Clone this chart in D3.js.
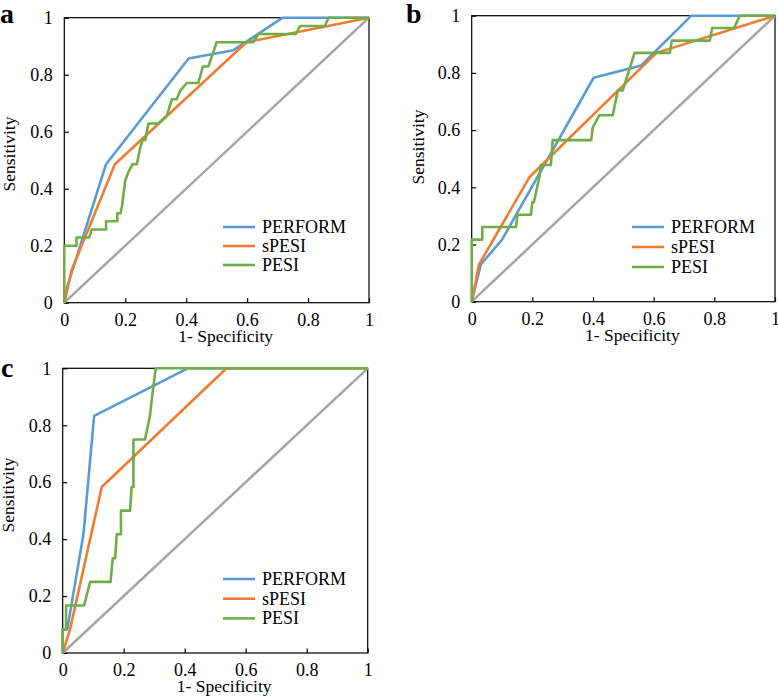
<!DOCTYPE html>
<html>
<head>
<meta charset="utf-8">
<script src="https://cdn.jsdelivr.net/npm/d3@7"></script>
<style>
  body { margin: 0; padding: 0; background: #fff; overflow: hidden; }
  text { font-family: "Times New Roman", "Liberation Serif", serif; fill: #000; }
</style>
</head>
<body>
<script>
// ROC curves, three panels (a, b, c)
const tickValues = [0, 0.2, 0.4, 0.6, 0.8, 1];
const tickLabels = ["0", "0.2", "0.4", "0.6", "0.8", "1"];
const seriesNames = ["PERFORM", "sPESI", "PESI"];
const seriesColors = ["#5b9bd5", "#ed7d31", "#70ad47"];
const xTitle = "1- Specificity";
const yTitle = "Sensitivity";

// [1-specificity, sensitivity]
const aPerform = [[0,0],[0.01,0.057],[0.137,0.486],[0.408,0.857],[0.555,0.886],[0.717,1],[1,1]];
const aSpesi = [[0,0],[0.024,0.114],[0.166,0.486],[0.598,0.914],[1,1]];
const aPesi = [[0,0],[0,0.2],[0.04,0.2],[0.04,0.229],[0.082,0.229],[0.09,0.257],[0.137,0.257],
  [0.137,0.286],[0.174,0.286],[0.174,0.314],[0.185,0.314],[0.19,0.343],[0.2,0.429],[0.21,0.457],
  [0.224,0.486],[0.238,0.486],[0.249,0.543],[0.257,0.571],[0.266,0.571],[0.276,0.629],[0.309,0.629],
  [0.337,0.657],[0.353,0.714],[0.369,0.714],[0.38,0.743],[0.402,0.771],[0.44,0.771],[0.455,0.829],
  [0.473,0.829],[0.5,0.914],[0.62,0.914],[0.637,0.943],[0.76,0.943],[0.774,0.971],[0.855,0.971],
  [0.867,1],[1,1]];

const bPerform = [[0,0],[0.03,0.13],[0.1,0.217],[0.402,0.783],[0.559,0.826],[0.724,1],[1,1]];
const bSpesi = [[0,0],[0.024,0.13],[0.19,0.435],[0.609,0.87],[1,1]];
const bPesi = [[0,0],[0,0.217],[0.035,0.217],[0.035,0.261],[0.146,0.261],[0.151,0.304],[0.195,0.304],
  [0.2,0.348],[0.205,0.348],[0.223,0.435],[0.228,0.478],[0.261,0.478],[0.267,0.565],[0.394,0.565],
  [0.399,0.609],[0.421,0.652],[0.465,0.652],[0.482,0.739],[0.498,0.739],[0.537,0.87],[0.653,0.87],
  [0.66,0.913],[0.785,0.913],[0.793,0.957],[0.865,0.957],[0.884,1],[1,1]];

const cPerform = [[0,0],[0,0.083],[0.015,0.083],[0.068,0.417],[0.103,0.833],[0.41,1],[1,1]];
const cSpesi = [[0,0],[0.024,0.083],[0.128,0.583],[0.537,1],[1,1]];
const cPesi = [[0,0],[0,0.083],[0.011,0.083],[0.011,0.167],[0.07,0.167],[0.09,0.25],[0.157,0.25],
  [0.164,0.333],[0.172,0.333],[0.177,0.417],[0.191,0.417],[0.191,0.5],[0.221,0.5],[0.226,0.583],
  [0.232,0.583],[0.232,0.75],[0.27,0.75],[0.286,0.833],[0.295,0.917],[0.305,1],[1,1]];

const diagonal = [[0,0],[1,1]];

const panels = [
  { letter: "a", series: [aPerform, aSpesi, aPesi], left: 64.3, right: 369, top: 17.7, bottom: 302.7,
    letterX: 0, letterY: 22.5, yTitleY: 154, yTitleX: 15, legX: 223, legY: 227, legGap: 19, xTitleY: 341.5 },
  { letter: "b", series: [bPerform, bSpesi, bPesi], left: 471.7, right: 775, top: 15.7, bottom: 301.7,
    letterX: 406, letterY: 22.5, yTitleY: 147, yTitleX: 424, legX: 632, legY: 227, legGap: 20, xTitleY: 340.5 },
  { letter: "c", series: [cPerform, cSpesi, cPesi], left: 62.7, right: 367.7, top: 368.3, bottom: 653,
    letterX: 1, letterY: 377, yTitleY: 495, yTitleX: 14, legX: 223, legY: 579, legGap: 19.7, xTitleY: 692 }
];

const fontFamily = "'Times New Roman', 'Liberation Serif', serif";
const svg = d3.select("body").append("svg").attr("width", 778).attr("height", 699);

panels.forEach(p => {
  const x = d3.scaleLinear().domain([0, 1]).range([p.left, p.right]);
  const y = d3.scaleLinear().domain([0, 1]).range([p.bottom, p.top]);
  const g = svg.append("g");

  // frame
  g.append("rect")
    .attr("x", p.left).attr("y", p.top)
    .attr("width", p.right - p.left).attr("height", p.bottom - p.top)
    .attr("fill", "none").attr("stroke", "#000").attr("stroke-width", 1.2);

  const xAxis = d3.axisBottom(x).tickValues(tickValues)
    .tickFormat((d, i) => tickLabels[i]).tickSizeInner(-4.5).tickSizeOuter(0).tickPadding(10.5);
  const yAxis = d3.axisLeft(y).tickValues(tickValues)
    .tickFormat((d, i) => tickLabels[i]).tickSizeInner(-4.5).tickSizeOuter(0).tickPadding(11.5);

  const gx = g.append("g").attr("transform", `translate(0,${p.bottom})`).call(xAxis);
  const gy = g.append("g").attr("transform", `translate(${p.left},0)`).call(yAxis);
  [gx, gy].forEach(ax => {
    ax.attr("font-family", fontFamily).attr("font-size", 18);
    ax.select(".domain").remove();
    ax.selectAll("line").attr("stroke", "#000").attr("stroke-width", 1.2);
    ax.selectAll("text").style("font-family", fontFamily).style("font-size", "18px").attr("fill", "#000");
  });

  // titles
  g.append("text").attr("x", (p.left + p.right) / 2 + 9).attr("y", p.xTitleY)
    .attr("text-anchor", "middle").style("font-size", "17.5px").text(xTitle);
  g.append("text").attr("transform", `translate(${p.yTitleX},${p.yTitleY}) rotate(-90)`)
    .attr("text-anchor", "middle").style("font-size", "17.5px").text(yTitle);
  g.append("text").attr("x", p.letterX).attr("y", p.letterY)
    .style("font-size", "28px").style("font-weight", "bold").text(p.letter);

  const line = d3.line().x(d => x(d[0])).y(d => y(d[1]));

  g.append("path").datum(diagonal).attr("d", line)
    .attr("fill", "none").attr("stroke", "#a5a5a5").attr("stroke-width", 2.5);

  p.series.forEach((s, i) => {
    g.append("path").datum(s).attr("d", line)
      .attr("fill", "none").attr("stroke", seriesColors[i])
      .attr("stroke-width", 2.6).attr("stroke-linejoin", "round");
  });

  // legend
  const leg = g.append("g");
  seriesNames.forEach((name, i) => {
    const ly = p.legY + i * p.legGap;
    leg.append("line").attr("x1", p.legX).attr("x2", p.legX + 32)
      .attr("y1", ly).attr("y2", ly)
      .attr("stroke", seriesColors[i]).attr("stroke-width", 2.6);
    leg.append("text").attr("x", p.legX + 39).attr("y", ly + 6)
      .style("font-size", "18px").text(name);
  });
});
</script>
</body>
</html>
